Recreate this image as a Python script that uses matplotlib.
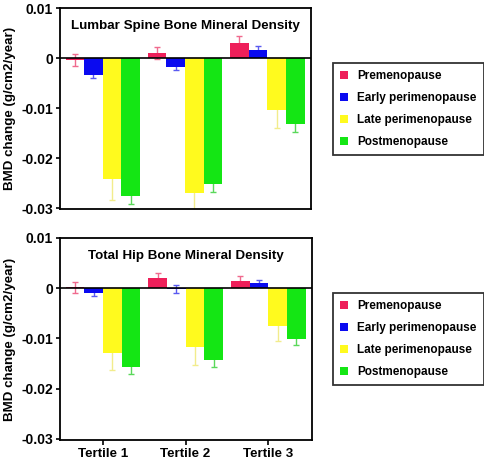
import matplotlib
matplotlib.use("Agg")
import matplotlib.pyplot as plt
from matplotlib.patches import Patch
import numpy as np

plt.rcParams['font.family'] = ['Liberation Sans', 'DejaVu Sans']

tertiles = ["Tertile 1", "Tertile 2", "Tertile 3"]
groups = ["Premenopause", "Early perimenopause", "Late perimenopause", "Postmenopause"]
bar_colors = ["#EE1F5A", "#0A0AF0", "#FFFA1E", "#14E614"]
err_colors = ["#F06A8E", "#5A5AF0", "#F2EC8C", "#5AD85A"]

# Lumbar spine BMD change (g/cm2/year)
lumbar_pre = [-0.0004, 0.0011, 0.0031]
lumbar_early = [-0.0033, -0.0017, 0.0017]
lumbar_late = [-0.0241, -0.0269, -0.0104]
lumbar_post = [-0.0275, -0.0251, -0.0132]
lumbar_pre_err = [0.0012, 0.0012, 0.0014]
lumbar_early_err = [0.0006, 0.0007, 0.0008]
lumbar_late_err = [0.0043, 0.0045, 0.0035]
lumbar_post_err = [0.0016, 0.0016, 0.0015]

# Total hip BMD change (g/cm2/year)
hip_pre = [0.0002, 0.0020, 0.0014]
hip_early = [-0.0009, -0.0001, 0.0010]
hip_late = [-0.0129, -0.0117, -0.0076]
hip_post = [-0.0157, -0.0143, -0.0101]
hip_pre_err = [0.0011, 0.0011, 0.0011]
hip_early_err = [0.0007, 0.0008, 0.0006]
hip_late_err = [0.0034, 0.0035, 0.0028]
hip_post_err = [0.0013, 0.0013, 0.0012]

yticks = [0.01, 0, -0.01, -0.02, -0.03]
ytick_labels = ["0.01", "0", "-0.01", "-0.02", "-0.03"]

fig = plt.figure(figsize=(4.84, 4.62), dpi=100)
W, H = 484, 462

def px_axes(l, t, r, b):
    return fig.add_axes([l / W, 1 - b / H, (r - l) / W, (b - t) / H])

ax1 = px_axes(60, 8, 311, 209)
ax2 = px_axes(60, 238, 312, 440)

width = 0.226
offsets = np.array([-1.5, -0.5, 0.5, 1.5]) * width
x = np.arange(len(tertiles))

def draw(ax, means, errs, title, show_x):
    for i, (m, e) in enumerate(zip(means, errs)):
        ax.errorbar(x + offsets[i], m, yerr=e, fmt='none', ecolor=err_colors[i],
                    elinewidth=1.0, capsize=2.2, capthick=1.0, zorder=1)
        ax.bar(x + offsets[i], m, width=width, color=bar_colors[i], zorder=2,
               edgecolor='none')
    ax.axhline(0, color='black', lw=1.2, zorder=3)
    ax.set_xlim(-0.52, 2.53)
    ax.set_ylim(-0.0302, 0.01)
    ax.set_yticks(yticks)
    ax.set_yticklabels(ytick_labels, fontsize=10, fontweight='bold')
    ax.set_ylabel("BMD change (g/cm2/year)", fontsize=9.6, fontweight='bold', labelpad=4)
    ax.tick_params(axis='y', direction='out', length=3, width=1.2, pad=2)
    if show_x:
        ax.set_xticks(x)
        ax.set_xticklabels(tertiles, fontsize=9.6, fontweight='bold')
        ax.tick_params(axis='x', direction='out', length=3.5, width=1.2, pad=2)
    else:
        ax.set_xticks([])
    for s in ax.spines.values():
        s.set_linewidth(1.3)
    ax.text(0.5, 0.91, title, transform=ax.transAxes, ha='center', va='center',
            fontsize=9.6, fontweight='bold')

draw(ax1, [lumbar_pre, lumbar_early, lumbar_late, lumbar_post],
     [lumbar_pre_err, lumbar_early_err, lumbar_late_err, lumbar_post_err],
     "Lumbar Spine Bone Mineral Density", False)
draw(ax2, [hip_pre, hip_early, hip_late, hip_post],
     [hip_pre_err, hip_early_err, hip_late_err, hip_post_err],
     "Total Hip Bone Mineral Density", True)

for top in (63, 293):
    handles = [Patch(facecolor=c, edgecolor='none') for c in bar_colors]
    leg = fig.legend(handles, groups, loc='upper left',
                     bbox_to_anchor=(333 / W, 1 - top / H), borderaxespad=0,
                     fancybox=False, frameon=True, edgecolor='black',
                     prop={'weight': 'bold', 'size': 8.5},
                     handlelength=0.7, handleheight=0.7, handletextpad=0.75,
                     labelspacing=0.85, borderpad=0.6)
    leg.get_frame().set_linewidth(1.3)

fig.savefig("out.png", dpi=100)
